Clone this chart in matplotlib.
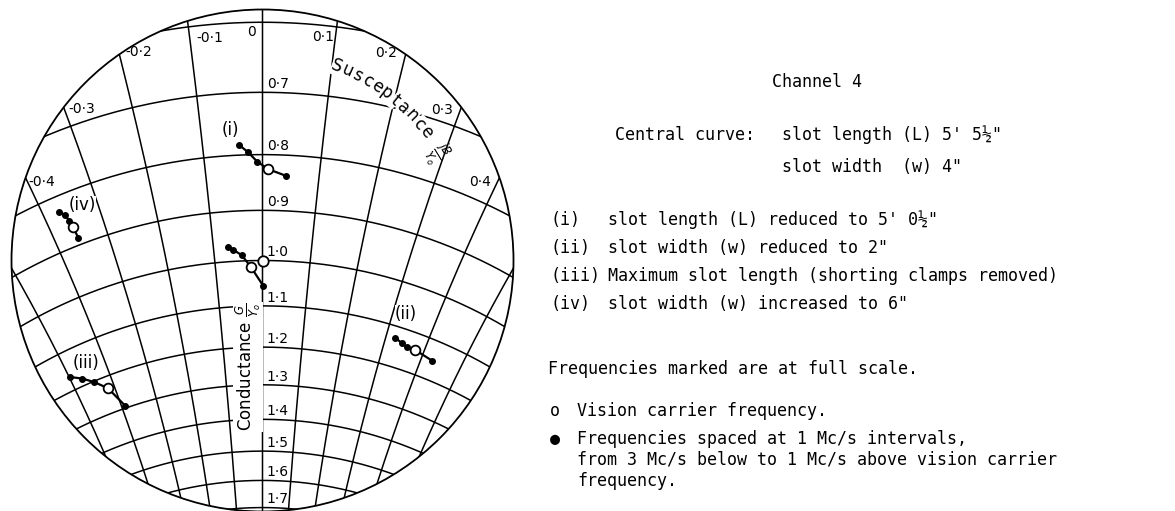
import numpy as np
import matplotlib
matplotlib.use("Agg")
import matplotlib.pyplot as plt
from matplotlib.patches import Circle

# chart grid, normalised admittance Y/Yo = G/Yo + jB/Yo
g_circles = [0.5, 0.6, 0.7, 0.8, 0.9, 1.0, 1.1, 1.2, 1.3, 1.4, 1.5, 1.6, 1.7, 1.8, 1.9]
b_arcs = [-0.8, -0.7, -0.6, -0.5, -0.4, -0.3, -0.2, -0.1, 0.0, 0.1, 0.2, 0.3, 0.4, 0.5, 0.6, 0.7, 0.8]
g_labels = [0.7, 0.8, 0.9, 1.0, 1.1, 1.2, 1.3, 1.4, 1.5, 1.6, 1.7]
b_labels = ["-0·4", "-0·3", "-0·2", "-0·1", "0", "0·1", "0·2", "0·3", "0·4"]

# measured admittance, 3, 2, 1 Mc/s below carrier, carrier, 1 Mc/s above
central_g = [0.970, 0.976, 0.988, 1.013, 1.055]
central_b = [-0.070, -0.060, -0.043, -0.025, 0.002]
i_g = [0.783, 0.795, 0.812, 0.825, 0.836]
i_b = [-0.039, -0.025, -0.009, 0.010, 0.042]
ii_g = [1.128, 1.135, 1.141, 1.140, 1.150]
ii_b = [0.323, 0.342, 0.356, 0.377, 0.428]
iii_g = [1.164, 1.181, 1.202, 1.231, 1.293]
iii_b = [-0.498, -0.471, -0.446, -0.418, -0.390]
iv_g = [0.827, 0.838, 0.850, 0.864, 0.887]
iv_b = [-0.371, -0.363, -0.360, -0.358, -0.356]
carrier = 3

curve_names = ["", "(i)", "(ii)", "(iii)", "(iv)"]

# layout (pixels of the 1175x511 picture)
K = 953.0            # pixels per unit of reflection coefficient
CX, CY = 262.5, 260.5
R_WIN = 251.0


def px(x, y):
    return (x - CX) / K, (CY - y) / K


def plane(g, b):
    y = np.asarray(g) + 1j * np.asarray(b)
    gam = (1 - y) / (1 + y)
    return -gam.imag, gam.real


fig = plt.figure(figsize=(11.75, 5.11), dpi=100)
ax = fig.add_axes([0, 0, 525 / 1175, 1])
ax.set_xlim(-CX / K, (525 - CX) / K)
ax.set_ylim(-(511 - CY) / K, CY / K)
ax.axis("off")

win = Circle((0, 0), R_WIN / K, fill=False, lw=1.3, color="black", zorder=3)
ax.add_patch(win)

bb = np.linspace(-4, 4, 4001)
for g in g_circles:
    x, y = plane(g, bb)
    ln, = ax.plot(x, y, color="black", lw=1.1)
    ln.set_clip_path(win)

gg = np.linspace(0.2, 6, 3001)
for b in b_arcs:
    x, y = plane(gg, b)
    ln, = ax.plot(x, y, color="black", lw=1.1)
    ln.set_clip_path(win)

# scale labels
for g in g_labels:
    x, y = plane(g, 0.0)
    ax.annotate(f"{g:.1f}".replace(".", "·"), (x, y), xytext=(3, 3),
                textcoords="offset points", ha="left", va="baseline", fontsize=10)

b_label_pos = [(42, 182), (82, 109), (139, 52), (210, 38), (252, 32),
               (323, 37), (386, 53), (442, 110), (480, 182)]
for s, p in zip(b_labels, b_label_pos):
    ax.text(*px(*p), s, ha="center", va="center", fontsize=10)

ax.text(*px(248, 367), r"Conductance $\frac{G}{Y_o}$", rotation=90, ha="center", va="center",
        fontsize=12, bbox=dict(facecolor="white", edgecolor="none", pad=0.5), zorder=4)

word = "Susceptance"
r_txt = 208 / K
for ch, a in zip(word, np.linspace(69, 38, len(word))):
    t = np.radians(a)
    ax.text(r_txt * np.cos(t), r_txt * np.sin(t), ch, rotation=a - 90, rotation_mode="anchor",
            ha="center", va="center", fontsize=12,
            bbox=dict(facecolor="white", edgecolor="none", pad=0.2), zorder=4)
t = np.radians(31.5)
ax.text(205 / K * np.cos(t), 205 / K * np.sin(t), r"$\frac{jB}{Y_o}$", rotation=-58.5,
        rotation_mode="anchor", ha="center", va="center", fontsize=12, zorder=4)

# measured curves
curves = [(central_g, central_b), (i_g, i_b), (ii_g, ii_b), (iii_g, iii_b), (iv_g, iv_b)]
for g, b in curves:
    x, y = plane(g, b)
    ax.plot(x, y, color="black", lw=1.6, zorder=5)
    filled = [k for k in range(len(x)) if k != carrier]
    ax.plot(x[filled], y[filled], "o", color="black", ms=4, zorder=6)
    ax.plot(x[carrier], y[carrier], "o", mfc="white", mec="black", mew=1.3, ms=7, zorder=6)

# centre of chart
cx0, cy0 = plane(1.0, 0.0)
ax.plot(cx0, cy0, "o", mfc="white", mec="black", mew=1.3, ms=7.5, zorder=6)

name_pos = [None, (230, 130), (406, 314), (86, 363), (82, 205)]
for s, p in zip(curve_names, name_pos):
    if p is not None:
        ax.text(*px(*p), s, ha="center", va="center", fontsize=12,
                bbox=dict(facecolor="white", edgecolor="none", pad=0.3), zorder=4)

# notes on the right
mono = "DejaVu Sans Mono"


def note(x, y, s, **kw):
    fig.text(x / 1175, 1 - y / 511, s, family=mono, fontsize=12, va="center", **kw)


note(772, 82, "Channel 4")
note(615, 135, "Central curve:")
note(782, 135, "slot length (L) 5' 5½\"")
note(782, 167, "slot width  (w) 4\"")

note(550, 220, "(i)")
note(608, 220, "slot length (L) reduced to 5' 0½\"")
note(550, 248, "(ii)")
note(608, 248, "slot width (w) reduced to 2\"")
note(550, 276, "(iii)")
note(608, 276, "Maximum slot length (shorting clamps removed)")
note(550, 304, "(iv)")
note(608, 304, "slot width (w) increased to 6\"")

note(548, 369, "Frequencies marked are at full scale.")
note(550, 411, "o")
note(577, 411, "Vision carrier frequency.")
note(550, 439, "●")
note(577, 439, "Frequencies spaced at 1 Mc/s intervals,")
note(577, 460, "from 3 Mc/s below to 1 Mc/s above vision carrier")
note(577, 481, "frequency.")

fig.savefig("out.png", dpi=100)
